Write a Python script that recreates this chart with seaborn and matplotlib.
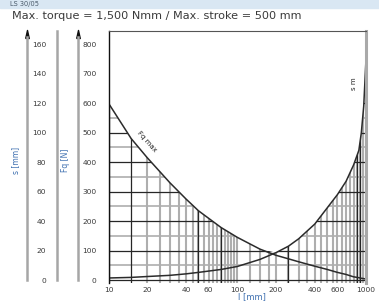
import numpy as np
import matplotlib
matplotlib.use("Agg")
import matplotlib.pyplot as plt
from matplotlib.path import Path
from matplotlib.patches import Rectangle
from matplotlib.ticker import NullLocator
import seaborn as sns

# Werte
l_mm = [10, 15, 20, 30, 40, 50, 75, 100, 150, 200, 250, 300, 400, 500,
        600, 700, 800, 880, 920, 960, 1000]
fq_max_n = [600, 480, 415, 330, 275, 235, 178, 145, 105, 84, 72, 62, 47, 36,
            26, 19, 11, 8, 6, 5, 3]
s_m = [7, 9, 12, 16, 21, 26, 36, 46, 70, 93, 115, 140, 190, 245,
       290, 335, 390, 440, 500, 590, 750]

x_ticks = [10, 20, 40, 60, 100, 200, 400, 600, 1000]
fq_ticks = list(range(0, 801, 100))
fq_minor = list(range(50, 800, 100))
s_ticks = list(range(0, 161, 20))
s_minor = list(range(10, 160, 20))

# Raster unter den Kurven
v_fine = list(range(20, 100, 5)) + list(range(100, 200, 25)) + list(range(200, 1001, 50))
v_bold = [10, 15, 50, 75, 250, 850, 900]
h_bold = list(range(0, 801, 100))
h_fine = list(range(50, 800, 100))

BLUE = "#3d6fb0"
TXT = "#3a3a3a"
W, H = 379, 302

sns.set_style("white")
plt.rcParams["font.family"] = ["DejaVu Sans"]


def rect(x0, y0, x1, y1):
    return [x0 / W, 1 - y1 / H, (x1 - x0) / W, (y1 - y0) / H]


fig = plt.figure(figsize=(W / 100, H / 100), dpi=100)
fig.patches.append(Rectangle((0, 1 - 8 / H), 1, 8 / H, transform=fig.transFigure,
                             color="#d9e7f3", zorder=0))
fig.text(10 / W, 1 - 4.2 / H, "LS 30/05", fontsize=4.8, color="#4a5a6a", va="center")
fig.text(12 / W, 1 - 16 / H, "Max. torque = 1,500 Nmm / Max. stroke = 500 mm",
         fontsize=8.1, color=TXT, va="center")

ax = fig.add_axes(rect(108.5, 31, 366, 283))
ax.set_xscale("log")
ax.set_xlim(10, 1000)
ax.set_ylim(-10, 845)

env = np.maximum(fq_max_n, s_m)
clip = ax.fill_between(l_mm, -10, env, facecolor="none", edgecolor="none", lw=0)
clip_path = clip.get_paths()[0]

grid = [
    ax.vlines(v_fine, -10, 845, colors="#aeaeae", lw=1.5),
    ax.hlines(h_fine, 10, 1000, colors="#aeaeae", lw=1.2),
    ax.vlines(v_bold, -10, 845, colors="#262626", lw=0.9),
    ax.hlines(h_bold, 10, 1000, colors="#262626", lw=0.9),
]
for g in grid:
    g.set_clip_path(clip_path, ax.transData)

sns.lineplot(x=l_mm, y=fq_max_n, ax=ax, color="#2b2b2b", lw=1.1)
sns.lineplot(x=l_mm, y=s_m, ax=ax, color="#2b2b2b", lw=1.1)

ax.text(20, 470, "Fq max", rotation=-48, fontsize=5, color="#222",
        ha="center", va="center")
ax.text(800, 665, "s m", rotation=90, fontsize=5, color="#222",
        ha="center", va="center")

ax.spines["bottom"].set_visible(False)
ax.spines["left"].set_color("#111")
ax.spines["left"].set_linewidth(1.0)
ax.spines["top"].set_color("#555")
ax.spines["top"].set_linewidth(0.8)
ax.spines["right"].set_color("#a9a9a9")
ax.spines["right"].set_linewidth(2.2)

ax.set_yticks(fq_ticks)
ax.set_yticks(fq_minor, minor=True)
ax.tick_params(axis="y", which="major", direction="inout", length=14.4, width=0.9,
               color="#111", pad=1.4, labelsize=5.4, labelcolor=TXT)
ax.tick_params(axis="y", which="minor", direction="inout", length=10.8, width=0.9,
               color="#999")
ax.set_xticks(x_ticks)
ax.set_xticklabels([str(v) for v in x_ticks])
ax.xaxis.set_minor_locator(NullLocator())
ax.tick_params(axis="x", length=0, pad=3, labelsize=5.4, labelcolor=TXT)
ax.set_xlabel("l [mm]", fontsize=6, color=BLUE)
ax.xaxis.set_label_coords(0.557, -0.038)

# Skala s [mm]
s_ax = fig.add_axes(rect(57, 31, 58, 283))
s_ax.patch.set_visible(False)
s_ax.set_ylim(-2, 169)
for side in ("top", "right", "bottom"):
    s_ax.spines[side].set_visible(False)
s_ax.spines["left"].set_color("#a6a6a6")
s_ax.spines["left"].set_linewidth(1.8)
s_ax.spines["left"].set_bounds(0, 169)
s_ax.set_yticks(s_ticks)
s_ax.set_yticks(s_minor, minor=True)
s_ax.tick_params(axis="y", which="major", direction="inout", length=8.6, width=0.9,
                 color="#111", pad=3.6, labelsize=5.4, labelcolor=TXT)
s_ax.tick_params(axis="y", which="minor", direction="inout", length=5, width=0.9,
                 color="#777")
s_ax.tick_params(axis="x", bottom=False, labelbottom=False)

# Pfeil-Linien
arrow = Path([(-0.22, -0.5), (0, 0.5), (0.22, -0.5), (-0.22, -0.5)])
for xp in (27, 78):
    a = fig.add_axes(rect(xp, 31, xp + 1, 283))
    a.patch.set_visible(False)
    a.set_ylim(-10, 845)
    a.set_xlim(0, 1)
    for side in ("top", "right", "bottom"):
        a.spines[side].set_visible(False)
    a.spines["left"].set_color("#a6a6a6")
    a.spines["left"].set_linewidth(1.8)
    a.spines["left"].set_bounds(0, 826)
    a.set_xticks([])
    a.set_yticks([])
    a.plot([0], [834], marker=arrow, ms=5.8, color="#111", clip_on=False)

fig.text(16 / W, 1 - 160 / H, "s [mm]", rotation=90, fontsize=5.5, color=BLUE,
         ha="center", va="center")
fig.text(66 / W, 1 - 160 / H, "Fq [N]", rotation=90, fontsize=5.5, color=BLUE,
         ha="center", va="center")

fig.savefig("out.png", dpi=100)
